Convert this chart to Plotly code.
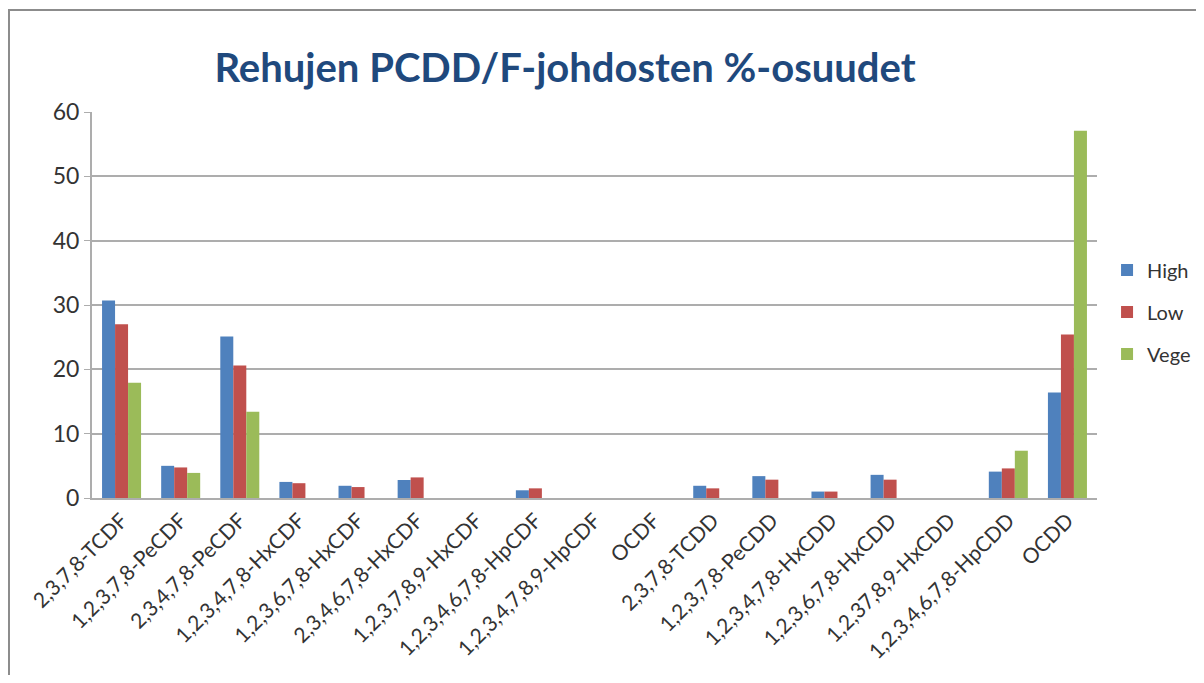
import plotly.graph_objects as go

categories = ["2,3,7,8-TCDF", "1,2,3,7,8-PeCDF", "2,3,4,7,8-PeCDF", "1,2,3,4,7,8-HxCDF",
              "1,2,3,6,7,8-HxCDF", "2,3,4,6,7,8-HxCDF", "1,2,3,7,8,9-HxCDF", "1,2,3,4,6,7,8-HpCDF",
              "1,2,3,4,7,8,9-HpCDF", "OCDF", "2,3,7,8-TCDD", "1,2,3,7,8-PeCDD",
              "1,2,3,4,7,8-HxCDD", "1,2,3,6,7,8-HxCDD", "1,2,37,8,9-HxCDD", "1,2,3,4,6,7,8-HpCDD", "OCDD"]
high = [30.7, 5.0, 25.1, 2.5, 1.9, 2.8, 0, 1.2, 0, 0, 1.9, 3.4, 1.0, 3.6, 0, 4.1, 16.4]
low = [27.0, 4.75, 20.6, 2.3, 1.7, 3.2, 0, 1.5, 0, 0, 1.5, 2.85, 1.0, 2.85, 0, 4.6, 25.4]
vege = [17.9, 3.9, 13.4, 0, 0, 0, 0, 0, 0, 0, 0, 0, 0, 0, 0, 7.35, 57.1]

series = [("High", high, "#4F81BD"), ("Low", low, "#C0504D"), ("Vege", vege, "#9BBB59")]

FONT = "Lato"
TXT = "#333333"
fig = go.Figure()
for name, vals, col in series:
    fig.add_trace(go.Bar(x=categories, y=vals, name=name, marker_color=col,
                         marker_line_width=0, legendgroup=name))

fig.update_layout(
    width=1188, height=667,
    margin=dict(l=84, r=99, t=104, b=177, autoexpand=False),
    paper_bgcolor="white", plot_bgcolor="white",
    barmode="group", bargap=0.34, bargroupgap=0,
    font=dict(family=FONT, color=TXT),
    title=dict(text="<b>Rehujen PCDD/F-johdosten %-osuudet</b>", x=0.4689, xanchor="center",
               y=0.91, yanchor="middle", font=dict(family=FONT, size=40, color="#1F497D")),
    legend=dict(x=1.01, y=0.482, xanchor="left", yanchor="middle",
                font=dict(family=FONT, size=20, color=TXT), tracegroupgap=13, itemwidth=30),
    showlegend=True,
)
fig.update_yaxes(range=[0, 60], dtick=10, showgrid=True, gridcolor="#ADADAD", gridwidth=2,
                 showline=True, linecolor="#ADADAD", linewidth=2, ticks="outside",
                 ticklen=6, tickcolor="#ADADAD", zeroline=False, automargin=False,
                 tickfont=dict(family=FONT, size=23, color=TXT))
fig.update_xaxes(tickangle=-45, showline=True, linecolor="#ADADAD", linewidth=2,
                 ticks="", automargin=False, tickfont=dict(family=FONT, size=21, color=TXT))
fig.add_shape(type="rect", xref="paper", yref="paper", x0=-0.0826, x1=1.2, y0=-0.6, y1=1.264,
              line=dict(color="#8C8C8C", width=2), fillcolor="rgba(0,0,0,0)", layer="below")
fig.write_html("out.html")
